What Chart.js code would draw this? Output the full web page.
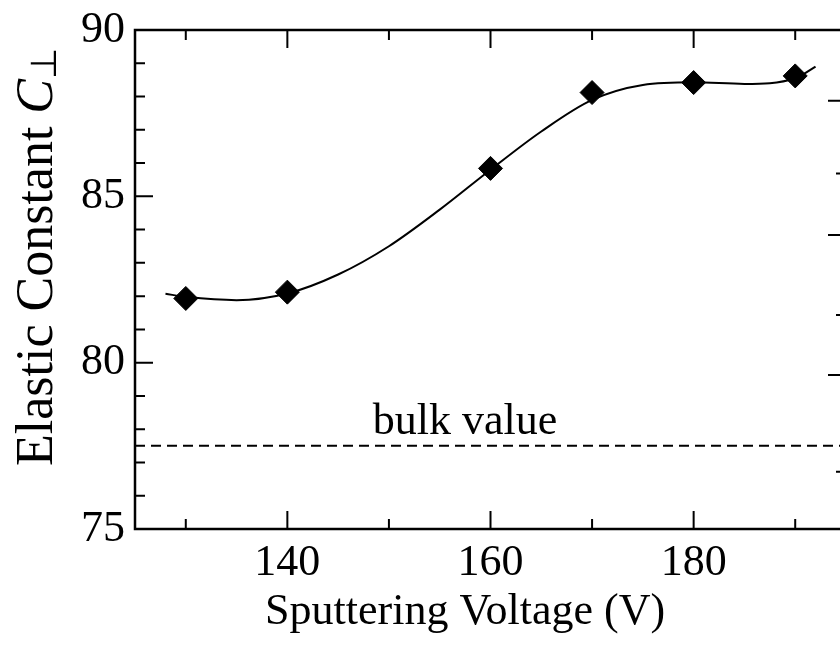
<!DOCTYPE html>
<html>
<head>
<meta charset="utf-8">
<title>Elastic constant vs sputtering voltage</title>
<script src="https://cdn.jsdelivr.net/npm/chart.js@4.4.0/dist/chart.umd.min.js"></script>
<style>
  html, body { margin: 0; padding: 0; background: #fff; overflow: hidden; }
  canvas { display: block; }
</style>
</head>
<body>
<canvas id="chart" width="860" height="646"></canvas>
<script>
// measured points
const voltage = [130, 140, 160, 170, 180, 190];
const elastic = [81.93, 82.12, 85.84, 88.12, 88.42, 88.62];

// smooth guide curve through the measurements
const fitVoltage = [128, 130, 135, 140, 145, 150, 155, 160, 165, 170, 175, 180, 185, 190, 192];
const fitElastic = [82.07, 81.98, 81.88, 82.08, 82.65, 83.5, 84.6, 85.8, 86.95, 87.9, 88.35, 88.43, 88.38, 88.55, 88.9];

const bulkValue = 77.5;
const bulkLabel = 'bulk value';
const xTitle = 'Sputtering Voltage (V)';
const xRange = [125, 195];
const yRange = [75, 90];

const xMajor = [140, 160, 180];
const xMinor = [130, 150, 170, 190];
const yMajor = [75, 80, 85, 90];
const yMinor = [76, 77, 78, 79, 81, 82, 83, 84, 86, 87, 88, 89];
// right-hand axis (second quantity, labels run off the edge); positions in C units
const rightMajor = [75, 79.63, 83.84, 87.87];
const rightMinor = [76.72, 81.43, 85.69];

const SERIF = "'Liberation Serif', 'Times New Roman', serif";
// the figure's text column is centred left of the clipped plot box
const TEXT_CENTER_X = 157.5;

// box frame with inward tick marks on all four sides
const frameTicks = {
  id: 'frameTicks',
  afterDatasetsDraw(chart) {
    const { ctx, chartArea: a, scales: { x, y } } = chart;
    const MAJ = 18, MIN = 10;
    ctx.save();
    ctx.strokeStyle = '#000';
    ctx.lineWidth = 2.5;
    ctx.strokeRect(a.left, a.top, a.right - a.left, a.bottom - a.top);
    ctx.lineWidth = 2;
    ctx.beginPath();
    const vt = (v, len) => {
      const px = x.getPixelForValue(v);
      ctx.moveTo(px, a.bottom); ctx.lineTo(px, a.bottom - len);
      ctx.moveTo(px, a.top); ctx.lineTo(px, a.top + len);
    };
    xMajor.forEach(v => vt(v, MAJ));
    xMinor.forEach(v => vt(v, MIN));
    yMajor.forEach(v => {
      const py = y.getPixelForValue(v);
      ctx.moveTo(a.left, py); ctx.lineTo(a.left + MAJ, py);
    });
    yMinor.forEach(v => {
      const py = y.getPixelForValue(v);
      ctx.moveTo(a.left, py); ctx.lineTo(a.left + MIN, py);
    });
    rightMajor.forEach(v => {
      const py = y.getPixelForValue(v);
      ctx.moveTo(a.right, py); ctx.lineTo(a.right - MAJ, py);
    });
    rightMinor.forEach(v => {
      const py = y.getPixelForValue(v);
      ctx.moveTo(a.right, py); ctx.lineTo(a.right - MIN, py);
    });
    ctx.stroke();

    ctx.fillStyle = '#000';
    ctx.font = `44px ${SERIF}`;
    ctx.textAlign = 'center';
    ctx.textBaseline = 'alphabetic';
    // label over the dashed bulk line
    ctx.fillText(bulkLabel, x.getPixelForValue(TEXT_CENTER_X), y.getPixelForValue(bulkValue) - 12);
    // x axis title
    ctx.fillText(xTitle, x.getPixelForValue(TEXT_CENTER_X), a.bottom + 95);
    ctx.restore();
  }
};

// rotated y title: "Elastic Constant C⊥" with italic C and subscript ⊥
const yTitle = {
  id: 'yTitle',
  afterDraw(chart) {
    const { ctx } = chart;
    const parts = [
      { t: 'Elastic Constant ', font: `52px ${SERIF}`, dy: 0 },
      { t: 'C', font: `italic 52px ${SERIF}`, dy: 0 },
      { t: '\u22A5', font: `36px ${SERIF}`, dy: 9 }
    ];
    ctx.save();
    let total = 0;
    parts.forEach(p => { ctx.font = p.font; p.w = ctx.measureText(p.t).width; total += p.w; });
    ctx.translate(38, 257);
    ctx.rotate(-Math.PI / 2);
    ctx.fillStyle = '#000';
    ctx.textBaseline = 'middle';
    ctx.textAlign = 'left';
    let cx = -total / 2;
    parts.forEach(p => {
      ctx.font = p.font;
      ctx.fillText(p.t, cx, p.dy);
      cx += p.w;
    });
    ctx.restore();
  }
};

new Chart(document.getElementById('chart'), {
  data: {
    datasets: [
      {
        type: 'line',
        data: fitVoltage.map((v, i) => ({ x: v, y: fitElastic[i] })),
        borderColor: '#000',
        borderWidth: 2,
        pointRadius: 0,
        cubicInterpolationMode: 'monotone',
        fill: false
      },
      {
        type: 'line',
        data: xRange.map(v => ({ x: v, y: bulkValue })),
        borderColor: '#000',
        borderWidth: 2,
        borderDash: [10, 6],
        pointRadius: 0,
        fill: false
      },
      {
        type: 'scatter',
        data: voltage.map((v, i) => ({ x: v, y: elastic[i] })),
        pointStyle: 'rectRot',
        pointRadius: 12,
        backgroundColor: '#000',
        borderColor: '#000',
        borderWidth: 1
      }
    ]
  },
  options: {
    responsive: false,
    animation: false,
    devicePixelRatio: 1,
    layout: { padding: { top: 30, right: 14, left: 0, bottom: 0 } },
    plugins: { legend: { display: false }, tooltip: { enabled: false } },
    scales: {
      x: {
        type: 'linear',
        min: xRange[0], max: xRange[1],
        afterBuildTicks: s => { s.ticks = xMajor.map(v => ({ value: v })); },
        afterFit: s => { s.height = 117; s.paddingLeft = 0; s.paddingRight = 0; },
        grid: { display: false, drawTicks: false },
        border: { display: false },
        ticks: { color: '#000', font: { family: SERIF, size: 44 }, padding: 8, maxRotation: 0 }
      },
      y: {
        type: 'linear',
        min: yRange[0], max: yRange[1],
        afterBuildTicks: s => { s.ticks = yMajor.map(v => ({ value: v })); },
        afterFit: s => { s.width = 135; s.paddingTop = 0; s.paddingBottom = 0; },
        grid: { display: false, drawTicks: false },
        border: { display: false },
        ticks: { color: '#000', font: { family: SERIF, size: 44 }, padding: 10 }
      }
    }
  },
  plugins: [frameTicks, yTitle]
});
</script>
</body>
</html>
